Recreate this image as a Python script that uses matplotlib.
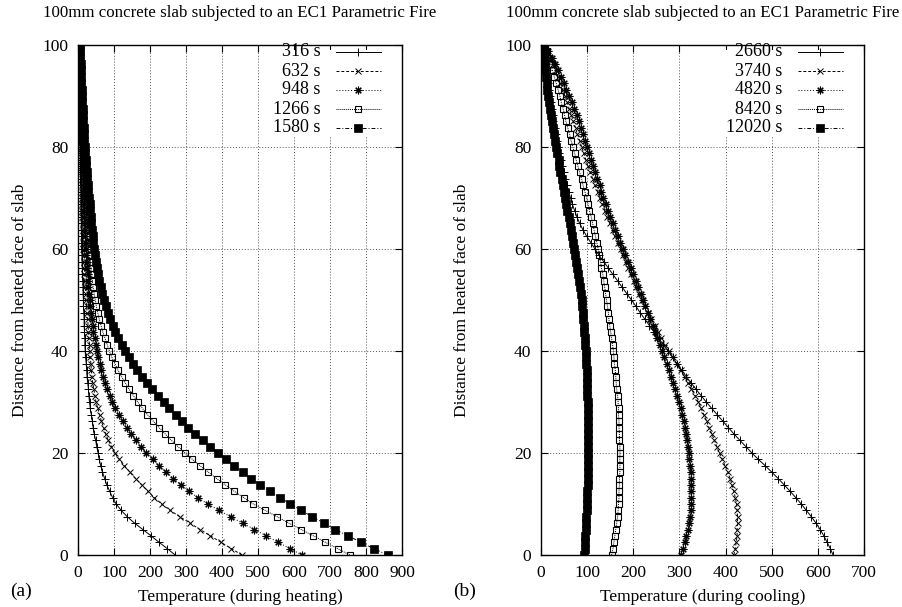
import matplotlib
matplotlib.use('Agg')
import matplotlib.pyplot as plt
from matplotlib.patches import Rectangle
from matplotlib.lines import Line2D

plt.rcParams['font.family'] = ['Liberation Serif', 'DejaVu Serif']
plt.rcParams['font.size'] = 12

# distance from heated face (mm), one node every 1.25 mm
depth = [i * 1.25 for i in range(81)]

title = '100mm concrete slab subjected to an EC1 Parametric Fire'
ylabel = 'Distance from heated face of slab'

# ---- heating phase ----
heat_labels = ['316 s', '632 s', '948 s', '1266 s', '1580 s']
heat_316 = [270, 248, 225, 203, 180, 157, 137, 120, 106, 96, 88, 80, 74, 68, 63, 59,
            56, 52, 49, 45, 42, 40, 37, 34, 32, 30, 29, 27, 25, 24, 23, 21,
            20, 19, 19, 18, 17, 17, 16, 15, 15, 14, 14, 13, 12, 12, 11, 11,
            10, 10, 10, 9, 9, 9, 8, 8, 8, 8, 7, 7, 7, 7, 7, 6,
            6, 6, 6, 6, 6, 6, 5, 5, 5, 5, 5, 5, 5, 5, 5, 5, 5]
heat_632 = [455, 426, 397, 368, 339, 311, 283, 256, 232, 212, 194, 177, 160, 144, 129, 115,
            102, 93, 84, 77, 71, 65, 60, 55, 50, 47, 44, 41, 39, 37, 36, 34,
            33, 32, 30, 29, 28, 27, 25, 24, 22, 21, 20, 19, 18, 18, 17, 16,
            15, 15, 14, 13, 13, 12, 12, 11, 11, 11, 10, 10, 9, 9, 9, 8,
            8, 8, 7, 7, 7, 7, 6, 6, 6, 6, 6, 6, 5, 5, 5, 5, 5]
heat_948 = [622, 589, 556, 523, 490, 457, 424, 392, 360, 333, 308, 286, 265, 245, 226, 208,
            190, 175, 160, 147, 135, 124, 113, 104, 95, 88, 81, 75, 69, 64, 60, 56,
            52, 49, 46, 43, 41, 38, 36, 34, 32, 31, 29, 28, 27, 25, 24, 23,
            22, 21, 20, 20, 19, 18, 17, 17, 16, 15, 15, 14, 13, 13, 12, 12,
            11, 11, 10, 10, 9, 9, 8, 8, 7, 7, 7, 6, 6, 6, 5, 5, 5]
heat_1266 = [755, 721, 687, 654, 620, 586, 553, 520, 487, 460, 434, 409, 385, 362, 339, 318,
             297, 278, 259, 242, 225, 209, 193, 179, 166, 154, 142, 131, 121, 111, 103, 94,
             87, 81, 75, 69, 64, 59, 55, 51, 48, 45, 42, 40, 38, 36, 34, 32,
             30, 29, 27, 26, 25, 24, 22, 21, 20, 19, 18, 17, 16, 15, 15, 14,
             13, 12, 12, 11, 10, 10, 9, 9, 8, 8, 7, 7, 6, 6, 6, 5, 5]
heat_1580 = [860, 822, 786, 750, 715, 683, 651, 620, 590, 561, 533, 506, 481, 457, 433, 410,
             388, 367, 346, 326, 306, 288, 271, 254, 238, 222, 206, 191, 177, 164, 152, 141,
             130, 121, 112, 104, 96, 90, 83, 77, 72, 67, 63, 59, 56, 53, 50, 47,
             45, 43, 41, 39, 37, 35, 33, 32, 30, 29, 27, 26, 24, 23, 22, 20,
             19, 18, 17, 16, 14, 13, 13, 12, 11, 10, 9, 9, 8, 7, 6, 6, 5]

# ---- cooling phase ----
cool_labels = ['2660 s', '3740 s', '4820 s', '8420 s', '12020 s']
cool_2660 = [633, 627, 620, 613, 605, 596, 586, 575, 564, 552, 540, 527, 514, 500, 486, 471,
             457, 444, 431, 418, 406, 394, 382, 370, 358, 347, 336, 325, 315, 305, 295, 285,
             275, 265, 255, 245, 235, 225, 215, 206, 196, 186, 176, 166, 156, 146, 136, 126,
             117, 108, 99, 91, 84, 78, 73, 68, 64, 60, 56, 52, 49, 46, 43, 40,
             37, 34, 32, 30, 27, 25, 23, 22, 20, 18, 16, 14, 12, 10, 8, 7, 5]
cool_3740 = [418, 421, 423, 425, 425, 426, 426, 425, 424, 421, 418, 414, 410, 405, 399, 393,
             387, 381, 376, 370, 364, 359, 353, 347, 341, 334, 326, 319, 311, 303, 294, 286,
             277, 269, 261, 254, 246, 239, 232, 225, 218, 212, 206, 201, 195, 189, 184, 178,
             173, 167, 161, 156, 150, 144, 139, 133, 128, 123, 117, 112, 107, 102, 97, 93,
             88, 84, 79, 75, 70, 66, 61, 57, 52, 47, 42, 37, 32, 26, 20, 14, 8]
cool_4820 = [303, 307, 311, 315, 318, 320, 322, 324, 325, 325, 325, 325, 325, 324, 323, 321,
             320, 318, 316, 314, 312, 309, 306, 303, 299, 295, 291, 287, 282, 277, 272, 267,
             262, 257, 252, 247, 242, 237, 232, 226, 221, 216, 210, 205, 200, 194, 189, 183,
             177, 172, 166, 161, 155, 150, 145, 140, 135, 131, 127, 122, 118, 113, 109, 104,
             100, 96, 91, 87, 82, 77, 72, 67, 61, 55, 49, 43, 37, 30, 23, 16, 8]
cool_8420 = [153, 156, 158, 160, 162, 164, 166, 167, 168, 169, 169, 170, 170, 171, 171, 171,
             171, 171, 170, 170, 169, 169, 168, 168, 167, 166, 164, 163, 162, 161, 159, 158,
             157, 155, 153, 151, 149, 147, 146, 144, 142, 140, 138, 136, 134, 131, 129, 126,
             124, 121, 118, 115, 112, 109, 105, 102, 99, 95, 91, 88, 84, 80, 76, 73,
             69, 65, 62, 58, 54, 51, 48, 44, 41, 37, 33, 29, 25, 21, 16, 12, 8]
cool_12020 = [94, 95, 95, 96, 97, 98, 98, 99, 100, 100, 100, 101, 101, 101, 102, 102,
              102, 102, 102, 102, 102, 102, 101, 101, 101, 100, 100, 100, 99, 99, 98, 98,
              97, 96, 95, 94, 93, 92, 90, 89, 88, 86, 84, 82, 80, 78, 76, 74,
              72, 70, 67, 65, 62, 60, 57, 55, 52, 50, 47, 45, 42, 40, 38, 35,
              33, 31, 29, 26, 24, 22, 20, 18, 16, 14, 12, 11, 9, 8, 7, 6, 5]

heat_series = [heat_316, heat_632, heat_948, heat_1266, heat_1580]
cool_series = [cool_2660, cool_3740, cool_4820, cool_8420, cool_12020]

# gnuplot-like point/line types
styles = [
    dict(ls='-', marker='+', ms=5.5, mew=0.7),
    dict(ls=(0, (3, 2)), marker='x', ms=4.5, mew=0.7),
    dict(ls=(0, (1, 2)), marker=(8, 2, 0), ms=5.5, mew=0.8),
    dict(ls=(0, (1, 1)), marker='s', ms=5, mew=0.8, mfc='none'),
    dict(ls=(0, (4, 2, 1, 2)), marker='s', ms=5.5, mew=0.5),
]


def panel(ax, series, labels, xmax, xlabel, box_left):
    ax.set_axisbelow(True)
    for vals, lab, st in zip(series, labels, styles):
        ax.plot(vals, depth, color='black', lw=0.7, zorder=3, **st)

    ax.set_xlim(0, xmax)
    ax.set_ylim(0, 100)
    ax.set_xticks(range(0, xmax + 1, 100))
    ax.set_yticks(range(0, 101, 20))
    ax.grid(True, color='#555555', ls=(0, (1, 2)), lw=0.7)
    ax.tick_params(direction='in', length=5, width=0.8, top=True, right=True,
                   labelsize=12.5, pad=7)
    for s in ax.spines.values():
        s.set_linewidth(1.0)
    ax.set_xlabel(xlabel, fontsize=12.5, labelpad=6)

    # opaque key box in the upper right, like gnuplot
    ax.add_patch(Rectangle((box_left, 0.82), 1 - box_left - 0.003, 0.17,
                           transform=ax.transAxes, facecolor='white',
                           edgecolor='none', zorder=1))
    for i, (lab, st) in enumerate(zip(labels, styles)):
        yy = 1 - (7 + 19 * i) / 510
        ax.text(0.748, yy, lab, transform=ax.transAxes, ha='right', va='center',
                fontsize=13, zorder=4)
        ln = Line2D([0.795, 0.865, 0.936], [yy, yy, yy], transform=ax.transAxes,
                    color='black', lw=0.7, markevery=[1], zorder=4, **st)
        ax.add_line(ln)


fig = plt.figure(figsize=(9.02, 6.07), dpi=100)
ax1 = fig.add_axes([78 / 902, 52 / 607, 324 / 902, 510 / 607])
ax2 = fig.add_axes([541 / 902, 52 / 607, 323 / 902, 510 / 607])

panel(ax1, heat_series, heat_labels, 900, 'Temperature (during heating)', 0.61)
panel(ax2, cool_series, cool_labels, 700, 'Temperature (during cooling)', 0.54)

ax1.set_title(title, fontsize=12.2, pad=20)
ax2.set_title(title, fontsize=12.2, pad=20)

fig.text(20 / 902, 1 - 300 / 607, ylabel, rotation=90, ha='center', va='center', fontsize=12.5)
fig.text(462 / 902, 1 - 300 / 607, ylabel, rotation=90, ha='center', va='center', fontsize=12.5)
fig.text(10 / 902, 1 - 591 / 607, '(a)', ha='left', va='center', fontsize=14)
fig.text(453 / 902, 1 - 591 / 607, '(b)', ha='left', va='center', fontsize=14)

fig.savefig('out.png', dpi=100)
